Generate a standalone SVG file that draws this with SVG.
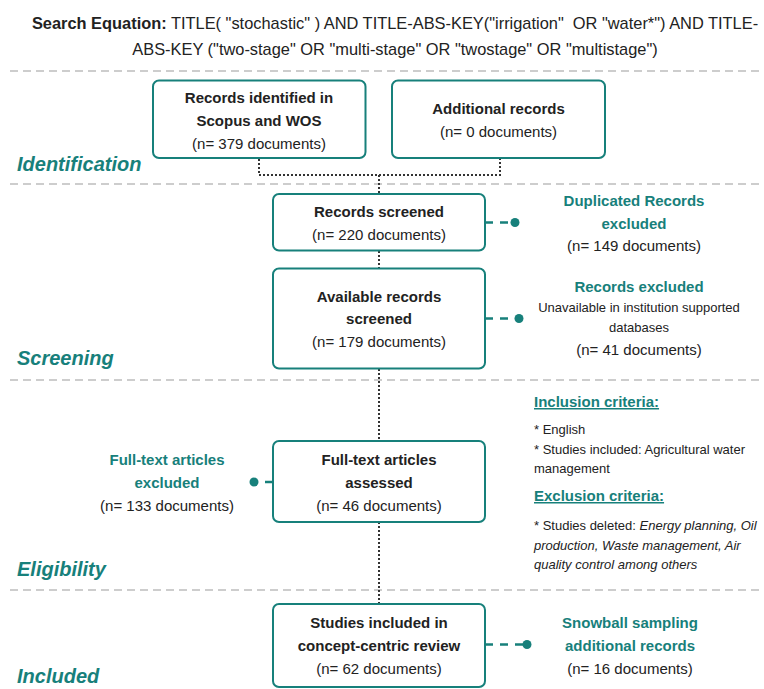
<svg xmlns="http://www.w3.org/2000/svg" width="764" height="689" viewBox="0 0 764 689">
<style>
text{font-family:"Liberation Sans",Arial,sans-serif;fill:#222}
.t{font-size:16.4px}
.b{font-weight:bold}
.n{font-size:15px;text-anchor:middle}
.tl{font-size:15px;text-anchor:middle;font-weight:bold;fill:#17807b}
.sec{font-size:20px;font-weight:bold;font-style:italic;fill:#17807b}
.sm{font-size:13px}
.box{fill:#fff;stroke:#17807b;stroke-width:2}
.sep{stroke:#bdbdbd;stroke-width:1.5;stroke-dasharray:8 5;fill:none}
.dot{stroke:#333;stroke-width:2;stroke-dasharray:2 2;fill:none}
.dash{stroke:#17807b;stroke-width:2.5;stroke-dasharray:8 7;fill:none}
.end{fill:#17807b}
.u{font-size:15px;font-weight:bold;fill:#17807b;text-decoration:underline}
</style>
<g id="title">
<text class="t" x="395" y="29" text-anchor="middle" xml:space="preserve"><tspan class="b">Search Equation:</tspan> TITLE( "stochastic" ) AND TITLE-ABS-KEY("irrigation"  OR "water*") AND TITLE-</text>
<text class="t" x="395" y="55" text-anchor="middle">ABS-KEY ("two-stage" OR "multi-stage" OR "twostage" OR "multistage")</text>
</g>
<g id="separators">
<line class="sep" x1="10" y1="71" x2="764" y2="71"/>
<line class="sep" x1="10" y1="184" x2="764" y2="184"/>
<line class="sep" x1="10" y1="380" x2="764" y2="380"/>
<line class="sep" x1="10" y1="590" x2="764" y2="590"/>
</g>
<g id="sections">
<text class="sec" x="17" y="171">Identification</text>
<text class="sec" x="17" y="365">Screening</text>
<text class="sec" x="17" y="576">Eligibility</text>
<text class="sec" x="17" y="683">Included</text>
</g>
<g id="connectors">
<path class="dot" d="M259 159 V175 H500 V159 M379 175 V193"/>
<path class="dot" d="M379 251 V268 M379 369 V441 M379 522 V604"/>
<path class="dash" d="M485 222.5 H512"/>
<circle class="end" cx="515" cy="222.5" r="4.5"/>
<path class="dash" d="M485 318.5 H516"/>
<circle class="end" cx="519" cy="318.5" r="4.5"/>
<path class="dash" d="M273 482 H262"/>
<circle class="end" cx="254" cy="482" r="4.5"/>
<path class="dash" d="M485 644.5 H524"/>
<circle class="end" cx="527" cy="644.5" r="4.5"/>
</g>
<g id="n-identified">
<rect class="box" x="153" y="80.5" width="212.5" height="77.5" rx="6"/>
<text class="n b" x="259" y="103">Records identified in</text>
<text class="n b" x="259" y="126">Scopus and WOS</text>
<text class="n" x="259" y="149">(n= 379 documents)</text>
</g>
<g id="n-additional">
<rect class="box" x="392" y="80.5" width="213" height="77.5" rx="6"/>
<text class="n b" x="498.5" y="114">Additional records</text>
<text class="n" x="498.5" y="137">(n= 0 documents)</text>
</g>
<g id="n-screened">
<rect class="box" x="273" y="194" width="212" height="56.5" rx="6"/>
<text class="n b" x="379" y="217">Records screened</text>
<text class="n" x="379" y="240">(n= 220 documents)</text>
</g>
<g id="n-duplicated">
<text class="tl" x="634" y="206">Duplicated Records</text>
<text class="tl" x="634" y="228.5">excluded</text>
<text class="n" x="634" y="251">(n= 149 documents)</text>
</g>
<g id="n-available">
<rect class="box" x="273" y="268.5" width="212" height="100" rx="6"/>
<text class="n b" x="379" y="301.5">Available records</text>
<text class="n b" x="379" y="324">screened</text>
<text class="n" x="379" y="347">(n= 179 documents)</text>
</g>
<g id="n-excluded">
<text class="tl" x="639" y="291.5">Records excluded</text>
<text class="sm" x="639" y="312" text-anchor="middle">Unavailable in institution supported</text>
<text class="sm" x="639" y="332" text-anchor="middle">databases</text>
<text class="n" x="639" y="355">(n= 41 documents)</text>
</g>
<g id="n-fulltext">
<rect class="box" x="273" y="441" width="212" height="81" rx="6"/>
<text class="n b" x="379" y="465">Full-text articles</text>
<text class="n b" x="379" y="488">assessed</text>
<text class="n" x="379" y="511">(n= 46 documents)</text>
</g>
<g id="n-ftexcluded">
<text class="tl" x="167" y="465">Full-text articles</text>
<text class="tl" x="167" y="488">excluded</text>
<text class="n" x="167" y="511">(n= 133 documents)</text>
</g>
<g id="n-criteria">
<text class="u" x="534" y="407">Inclusion criteria:</text>
<text class="sm" x="534" y="434">* English</text>
<text class="sm" x="534" y="454">* Studies included: Agricultural water</text>
<text class="sm" x="534" y="473">management</text>
<text class="u" x="534" y="501">Exclusion criteria:</text>
<text class="sm" x="534" y="530">* Studies deleted: <tspan font-style="italic">Energy planning, Oil</tspan></text>
<text class="sm" x="534" y="550" font-style="italic">production, Waste management, Air</text>
<text class="sm" x="534" y="569" font-style="italic">quality control among others</text>
</g>
<g id="n-included">
<rect class="box" x="273" y="604" width="212" height="83" rx="6"/>
<text class="n b" x="379" y="628">Studies included in</text>
<text class="n b" x="379" y="651">concept-centric review</text>
<text class="n" x="379" y="674">(n= 62 documents)</text>
</g>
<g id="n-snowball">
<text class="tl" x="630" y="628">Snowball sampling</text>
<text class="tl" x="630" y="651">additional records</text>
<text class="n" x="630" y="674">(n= 16 documents)</text>
</g>
</svg>
